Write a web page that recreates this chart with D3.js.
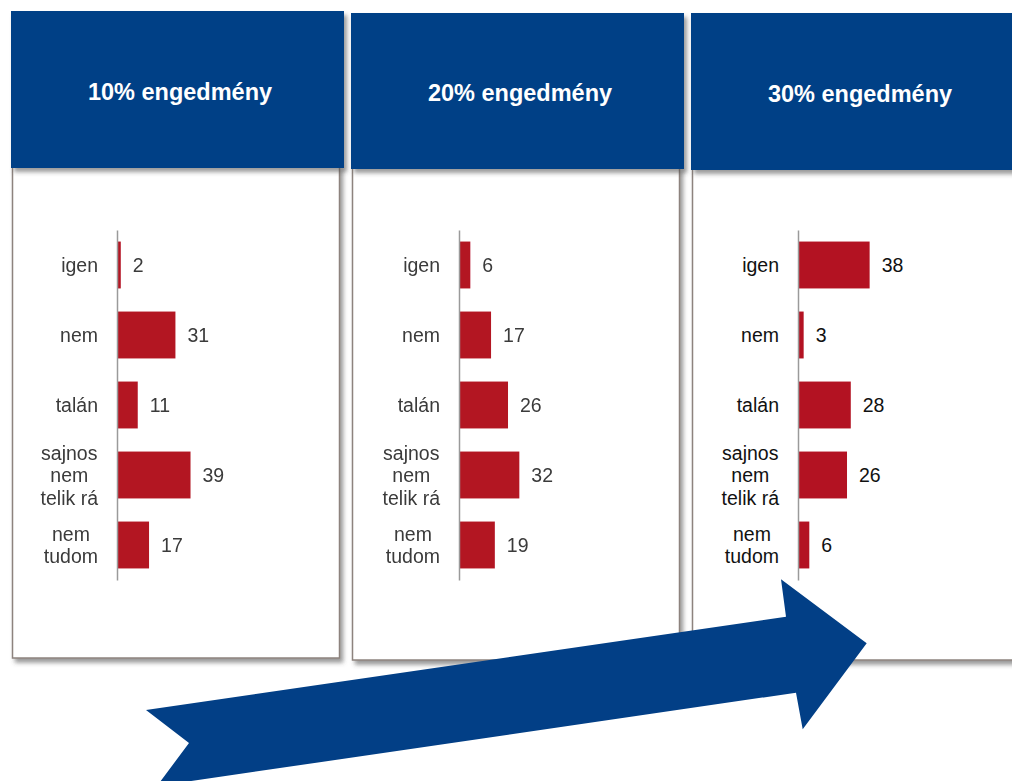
<!DOCTYPE html>
<html>
<head>
<meta charset="utf-8">
<script src="https://cdn.jsdelivr.net/npm/d3@7"></script>
<style>
  body { margin: 0; background: #fff; }
  svg { display: block; font-family: "Liberation Sans", Arial, sans-serif; }
</style>
</head>
<body>
<div id="chart"></div>
<script>
// data
const panelTitles = ['10% engedmény', '20% engedmény', '30% engedmény']
const categories = ['igen', 'nem', 'talán', 'sajnos nem telik rá', 'nem tudom']
const categoryLines = [['igen'], ['nem'], ['talán'], ['sajnos', 'nem', 'telik rá'], ['nem', 'tudom']]
const values10 = [2, 31, 11, 39, 17]
const values20 = [6, 17, 26, 32, 19]
const values30 = [38, 3, 28, 26, 6]
const seriesValues = [values10, values20, values30]

// layout
const W = 1012, H = 781
const panelX = [11, 351, 691]
const headerTop = [11, 13, 13]
const headerBottom = [168, 169, 170]
const bodyBottom = [658, 660, 660]
const axisOffset = [106, 108, 107]
const headerW = 333
const blue = '#023f86'
const red = '#b31222'

const svg = d3.select('#chart').append('svg').attr('width', W).attr('height', H)
const defs = svg.append('defs')
const shadow = defs.append('filter').attr('id', 'shadow')
  .attr('x', '-10%').attr('y', '-10%').attr('width', '130%').attr('height', '130%')
shadow.append('feDropShadow').attr('dx', 3).attr('dy', 4).attr('stdDeviation', 2.2)
  .attr('flood-color', '#4a4a4a').attr('flood-opacity', 0.55)
const soft = defs.append('filter').attr('id', 'soft')
soft.append('feGaussianBlur').attr('stdDeviation', 0.35)

const y = d3.scaleBand().domain(categories).range([230, 580]).paddingInner(0.33).paddingOuter(0.165)
const x = d3.scaleLinear().domain([0, 40]).range([0, 75.4])

panelTitles.forEach((title, i) => {
  const px = panelX[i]
  const g = svg.append('g')
  const dark = i === 2 ? '#111' : '#3a3a3a'

  // body card
  g.append('rect')
    .attr('x', px + 1.5).attr('y', headerBottom[i] - 2)
    .attr('width', i === 2 ? 400 : 327).attr('height', bodyBottom[i] - headerBottom[i] + 2)
    .attr('fill', '#fff').attr('stroke', '#8d837e').attr('stroke-width', 1.5)
    .attr('filter', 'url(#shadow)')

  // header
  g.append('rect')
    .attr('x', px).attr('y', headerTop[i])
    .attr('width', headerW).attr('height', headerBottom[i] - headerTop[i])
    .attr('fill', blue).attr('filter', 'url(#shadow)')
  g.append('text')
    .attr('x', px + headerW / 2 + 2.5).attr('y', (headerTop[i] + headerBottom[i]) / 2 + 10)
    .attr('text-anchor', 'middle').attr('fill', '#fff')
    .attr('font-weight', 'bold').attr('font-size', 23.5)
    .text(title)

  // chart
  const ax = px + axisOffset[i]
  const chart = g.append('g').attr('transform', `translate(${ax},0)`)
    .attr('filter', i === 2 ? null : 'url(#soft)')
  const vals = seriesValues[i]

  chart.selectAll('rect.bar').data(categories).join('rect').attr('class', 'bar')
    .attr('x', 0).attr('y', d => y(d))
    .attr('width', (d, k) => x(vals[k])).attr('height', y.bandwidth())
    .attr('fill', red)

  const axis = chart.append('g').call(d3.axisLeft(y).tickSize(0).tickSizeOuter(0).tickFormat(''))
  axis.select('.domain').attr('stroke', '#9a9a9a').attr('stroke-width', 1.5)

  chart.selectAll('text.val').data(categories).join('text').attr('class', 'val')
    .attr('x', (d, k) => x(vals[k]) + 12)
    .attr('y', d => y(d) + y.bandwidth() / 2 + 7)
    .attr('font-size', 19.5).attr('fill', dark)
    .text((d, k) => vals[k])

  categories.forEach((c, k) => {
    const lines = categoryLines[k]
    const cy = y(c) + y.bandwidth() / 2
    const lab = chart.append('text').attr('font-size', 19.5).attr('fill', dark).attr('text-anchor', 'middle')
    const spans = lines.map((l, j) => lab.append('tspan')
      .attr('y', cy + 7 + (j - (lines.length - 1) / 2) * 22.5).text(l))
    const maxW = d3.max(spans, s => s.node().getComputedTextLength())
    spans.forEach(s => s.attr('x', -19 - maxW / 2))
  })
})

// decorative arrow over the panels
const arrowPts = [[146, 710], [786, 616.7], [781, 579.3], [866.7, 643.3], [802.7, 729.3], [796, 692.7], [157, 786], [189, 743]]
svg.append('path').attr('d', d3.line()(arrowPts) + 'Z').attr('fill', blue)
</script>
</body>
</html>
